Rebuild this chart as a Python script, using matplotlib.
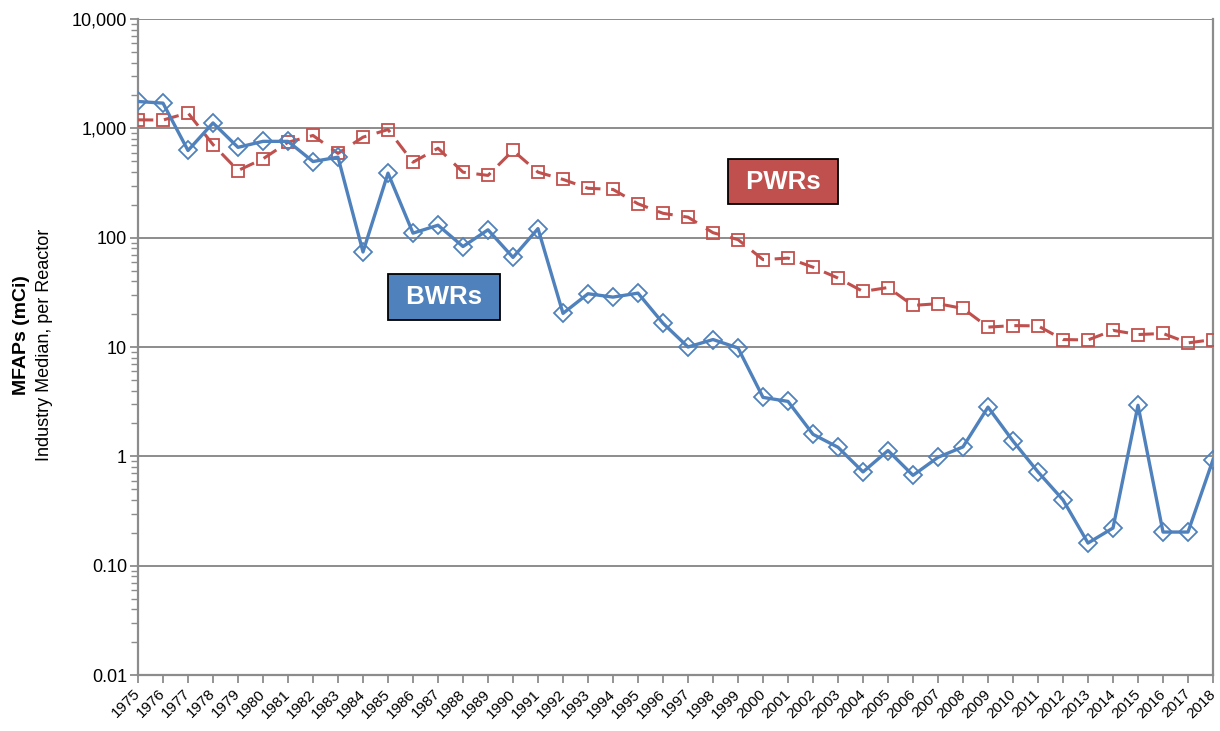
import numpy as np
import matplotlib
matplotlib.use("Agg")
import matplotlib.pyplot as plt
from matplotlib.ticker import FixedLocator, FixedFormatter, LogLocator, NullFormatter

plt.rcParams['font.family'] = ['Liberation Sans', 'DejaVu Sans']

years = list(range(1975, 2019))

bwr = [1760, 1700, 627, 1120, 670, 760, 760, 497, 545, 74,
       389, 110, 130, 83, 118, 66, 121, 20.3, 30.7, 28.6,
       31.1, 16.5, 10.0, 11.7, 9.8, 3.46, 3.18, 1.59, 1.21, 0.72,
       1.13, 0.67, 0.98, 1.22, 2.82, 1.38, 0.72, 0.40, 0.161, 0.221,
       2.93, 0.203, 0.203, 0.93]

pwr = [1196, 1190, 1385, 710, 411, 526, 746, 860, 590, 830,
       975, 490, 658, 397, 371, 627, 397, 341, 283, 276,
       204, 167, 154, 111, 96, 63, 65, 53.7, 42.7, 32.2,
       35, 24, 24.9, 22.5, 15.2, 15.7, 15.6, 11.7, 11.6, 14.2,
       13.0, 13.3, 10.9, 11.7]

y_ticks = [0.01, 0.1, 1, 10, 100, 1000, 10000]
y_tick_labels = ['0.01', '0.10', '1', '10', '100', '1,000', '10,000']

blue = '#4f81bd'
red = '#c0504d'
grid_col = '#8c8c8c'

fig = plt.figure(figsize=(12.2, 7.31), dpi=100)
ax = fig.add_axes([138 / 1220, 1 - 675 / 731, (1213 - 138) / 1220, (675 - 19) / 731])

ax.plot(years, pwr, color=red, lw=2.2, dashes=(5, 3.5),
        marker='s', ms=9, mfc='none', mec=red, mew=1.3, zorder=3)
ax.plot(years, bwr, color=blue, lw=2.4,
        marker='D', ms=9.5, mfc='none', mec=blue, mew=1.3, zorder=4)

ax.set_yscale('log')
ax.set_ylim(0.01, 10000)
ax.set_xlim(1975, 2018)

ax.yaxis.set_major_locator(FixedLocator(y_ticks))
ax.yaxis.set_major_formatter(FixedFormatter(y_tick_labels))
ax.yaxis.set_minor_locator(LogLocator(base=10, subs=np.arange(2, 10)))
ax.yaxis.set_minor_formatter(NullFormatter())

ax.set_xticks(years)
ax.set_xticklabels([str(y) for y in years], rotation=45, ha='right', va='center',
                   rotation_mode='anchor', fontsize=11)

ax.tick_params(axis='y', which='major', labelsize=13, length=6, width=1.3,
               color=grid_col, direction='out', pad=2)
ax.tick_params(axis='y', which='minor', length=5, width=1.0,
               color=grid_col, direction='out')
ax.tick_params(axis='x', which='major', length=6, width=1.3,
               color=grid_col, direction='out', pad=6)

ax.grid(axis='y', which='major', color=grid_col, lw=1.4)
ax.set_axisbelow(True)

for side in ['left', 'bottom', 'right']:
    ax.spines[side].set_color(grid_col)
    ax.spines[side].set_linewidth(1.6)
ax.spines['top'].set_visible(False)

# series labels
ax.text(2000.8, 326, ' PWRs ', color='white', fontsize=18.5, fontweight='bold',
        ha='center', va='center', zorder=5,
        bbox=dict(boxstyle='square,pad=0.42', fc=red, ec='black', lw=1.3))
ax.text(1987.25, 28.7, ' BWRs ', color='white', fontsize=18.5, fontweight='bold',
        ha='center', va='center', zorder=5,
        bbox=dict(boxstyle='square,pad=0.42', fc=blue, ec='black', lw=1.3))

# y-axis title in two lines
fig.text(22 / 1220, 1 - 335 / 731, 'MFAPs (mCi)', rotation=90, fontsize=14,
         fontweight='bold', ha='center', va='center')
fig.text(45 / 1220, 1 - 345 / 731, 'Industry Median, per Reactor', rotation=90,
         fontsize=13, ha='center', va='center')

fig.savefig('out.png', dpi=100)
